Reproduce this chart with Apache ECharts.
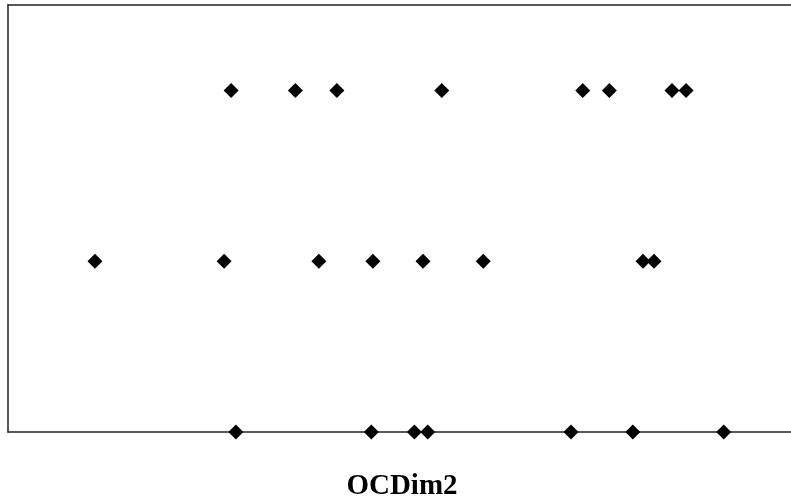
<!DOCTYPE html>
<html><head><meta charset="utf-8">
<script src="https://cdn.jsdelivr.net/npm/echarts@6/dist/echarts.min.js"></script>
<style>html,body{margin:0;padding:0;background:#fff}#c{width:791px;height:503px}</style>
</head><body><div id="c"></div>
<script>
const titleText = "OCDim2";
const rowLevels = [0.8, 0.4, 0.0];
const topRow = [2.85, 3.67, 4.20, 5.54, 7.34, 7.68, 8.48, 8.66];
const midRow = [1.11, 2.76, 3.97, 4.66, 5.30, 6.07, 8.11, 8.25];
const botRow = [2.91, 4.64, 5.19, 5.36, 7.19, 7.98, 9.14];

const data = [];
topRow.forEach(x => data.push([x, rowLevels[0]]));
midRow.forEach(x => data.push([x, rowLevels[1]]));
botRow.forEach(x => data.push([x, rowLevels[2]]));

const lineStyle = {color: '#222', width: 1.5};
const hidden = {axisTick: {show: false}, axisLabel: {show: false}, splitLine: {show: false}};
const chart = echarts.init(document.getElementById('c'));
chart.setOption({
  animation: false,
  backgroundColor: '#fff',
  title: {
    text: titleText, left: 397, top: 467, textAlign: 'center',
    textStyle: {fontFamily: 'Liberation Serif', fontWeight: 'bold', fontSize: 29, color: '#000'}
  },
  grid: {left: 8, right: 0, top: 5, bottom: 71, show: false},
  xAxis: [
    Object.assign({type: 'value', min: 0, max: 10, position: 'bottom', axisLine: {show: true, lineStyle}}, hidden),
    Object.assign({type: 'value', min: 0, max: 10, position: 'top', axisLine: {show: true, lineStyle}}, hidden)
  ],
  yAxis: Object.assign({type: 'value', min: 0, max: 1, axisLine: {show: true, onZero: false, lineStyle}}, hidden),
  series: [{
    type: 'scatter', data: data, symbol: 'diamond', symbolSize: 15, z: 5,
    itemStyle: {color: '#000', opacity: 1}, clip: false
  }]
});
</script></body></html>
